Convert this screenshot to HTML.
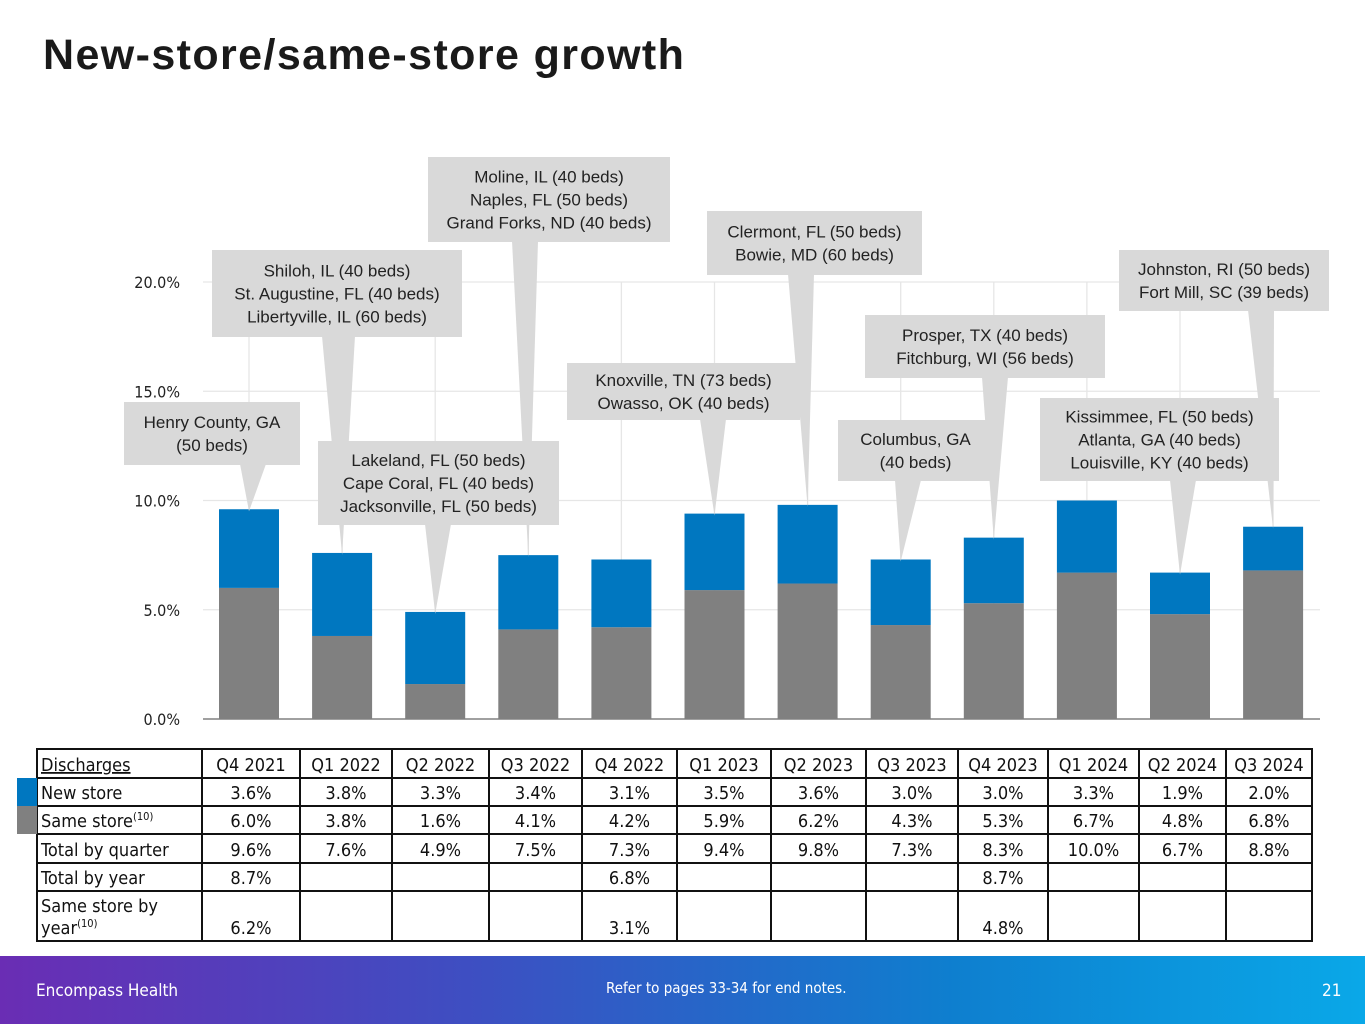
<!DOCTYPE html>
<html><head><meta charset="utf-8"><style>
body{margin:0;width:1365px;height:1024px;overflow:hidden;background:#fff;font-family:"DejaVu Sans Condensed","Liberation Sans",sans-serif;}
#title{position:absolute;left:43px;top:31px;font:bold 43px "Liberation Sans",sans-serif;color:#1a1a1a;margin:0;letter-spacing:1.4px}
svg{position:absolute;left:0;top:0}
#footer{position:absolute;left:0;top:956px;width:1365px;height:68px;background:linear-gradient(90deg,#6a2db4 0%,#3d4fc2 35%,#0e7fcf 70%,#0aa8e8 100%)}
</style></head><body>
<h1 id="title">New-store/same-store growth</h1>
<svg id="chart" width="1365" height="1024"></svg>
<div id="footer">
<span style="position:absolute;left:36px;top:25px;color:#fff;font-size:17px">Encompass Health</span>
<span style="position:absolute;left:606px;top:23px;color:#fff;font-size:15px">Refer to pages 33-34 for end notes.</span>
<span style="position:absolute;left:1322px;top:25px;color:#fff;font-size:17px">21</span>
</div>
<script>
const categories=["Q4 2021","Q1 2022","Q2 2022","Q3 2022","Q4 2022","Q1 2023","Q2 2023","Q3 2023","Q4 2023","Q1 2024","Q2 2024","Q3 2024"];
const newStore=[3.6,3.8,3.3,3.4,3.1,3.5,3.6,3.0,3.0,3.3,1.9,2.0];
const sameStore=[6.0,3.8,1.6,4.1,4.2,5.9,6.2,4.3,5.3,6.7,4.8,6.8];
const totalQuarter=[9.6,7.6,4.9,7.5,7.3,9.4,9.8,7.3,8.3,10.0,6.7,8.8];
const totalYear=["8.7%","","","","6.8%","","","","8.7%","","",""];
const sameYear=["6.2%","","","","3.1%","","","","4.8%","","",""];
const yTicks=[0,5,10,15,20];
const callouts=[
 {i:0,lines:["Henry County, GA","(50 beds)"],x:124,y:402,w:176,h:63,b:240},
 {i:1,lines:["Shiloh, IL (40 beds)","St. Augustine, FL (40 beds)","Libertyville, IL (60 beds)"],x:212,y:250,w:250,h:87,b:322},
 {i:2,lines:["Lakeland, FL (50 beds)","Cape Coral, FL (40 beds)","Jacksonville, FL (50 beds)"],x:318,y:441,w:241,h:84,b:425},
 {i:3,lines:["Moline, IL (40 beds)","Naples, FL (50 beds)","Grand Forks, ND (40 beds)"],x:428,y:157,w:242,h:85,b:512},
 {i:5,lines:["Knoxville, TN (73 beds)","Owasso, OK (40 beds)"],x:567,y:363,w:233,h:57,b:700},
 {i:6,lines:["Clermont, FL (50 beds)","Bowie, MD (60 beds)"],x:707,y:211,w:215,h:64,b:788},
 {i:7,lines:["Columbus, GA","(40 beds)"],x:838,y:420,w:155,h:61,b:895},
 {i:8,lines:["Prosper, TX (40 beds)","Fitchburg, WI (56 beds)"],x:865,y:315,w:240,h:63,b:982},
 {i:10,lines:["Kissimmee, FL (50 beds)","Atlanta, GA (40 beds)","Louisville, KY (40 beds)"],x:1040,y:398,w:239,h:83,b:1170},
 {i:11,lines:["Johnston, RI (50 beds)","Fort Mill, SC (39 beds)"],x:1119,y:250,w:210,h:61,b:1248}
];
const svg=document.getElementById('chart');const NS='http://www.w3.org/2000/svg';
function mk(t,a,p){const e=document.createElementNS(NS,t);for(const k in a)e.setAttribute(k,a[k]);(p||svg).appendChild(e);return e;}
const x0=203,step=93.1,bw=60,y0=719,pxPer=21.85;
const xC=i=>249+i*step;const yV=v=>y0-v*pxPer;
yTicks.forEach(t=>{const l=mk('line',{x1:x0,x2:1320,y1:yV(t),y2:yV(t),stroke:t?'#e6e6e6':'#808080','stroke-width':t?1.3:1.5});

const tx=mk('text',{x:180,y:yV(t)+6,'text-anchor':'end','font-size':16,fill:'#222'});tx.textContent=t.toFixed(1)+'%';
});
categories.forEach((c,i)=>{const l=mk('line',{x1:xC(i),x2:xC(i),y1:yV(20),y2:y0,stroke:'#e6e6e6','stroke-width':1.3});
});
categories.forEach((c,i)=>{const s=mk('rect',{x:xC(i)-bw/2,y:yV(sameStore[i]),width:bw,height:sameStore[i]*pxPer,fill:'#808080'});

const n=mk('rect',{x:xC(i)-bw/2,y:yV(sameStore[i]+newStore[i]),width:bw,height:newStore[i]*pxPer,fill:'#0077c0'});
});
const cg=mk('g',{});
callouts.forEach(c=>{const tip=yV(totalQuarter[c.i])+2;const bwid=c.b>300&&c.b<360?33:26;
mk('polygon',{points:`${c.b},${c.y+c.h-1} ${c.b+bwid},${c.y+c.h-1} ${xC(c.i)},${tip}`,fill:'#d9d9d9'},cg);});
callouts.forEach(c=>{const g=mk('g',{});
mk('rect',{x:c.x,y:c.y,width:c.w,height:c.h,fill:'#d9d9d9'},g);});
callouts.forEach(c=>{const g=mk('g',{});
const n=c.lines.length;const lh=23;const start=c.y+c.h/2-(n-1)*lh/2+6;
c.lines.forEach((s,k)=>{const t=mk('text',{x:c.x+c.w/2,y:start+k*lh,'text-anchor':'middle','font-size':17,'font-family':'Liberation Sans, sans-serif',fill:'#222'},g);t.textContent=s;});});
// table
const colX=[37,202,300,392,489,582,677,771,866,958,1048,1139,1226,1312];
const rowY=[749,778,806,834,863,891,941];
const tg=mk('g',{});
const lb=mk('rect',{x:17,y:778,width:20,height:28,fill:'#0077c0'});
const lg=mk('rect',{x:17,y:806,width:20,height:28,fill:'#808080'});
rowY.forEach(y=>mk('line',{x1:36,x2:1313,y1:y,y2:y,stroke:'#111','stroke-width':2},tg));
colX.forEach(x=>mk('line',{x1:x,x2:x,y1:749,y2:941,stroke:'#111','stroke-width':2},tg));
function txt(x,y,s,anchor,extra){const t=mk('text',Object.assign({x:x,y:y,'text-anchor':anchor,'font-size':18,fill:'#111'},extra||{}),tg);t.innerHTML=s;return t;}
txt(41,771,'Discharges','start',{'text-decoration':'underline'});
txt(41,799,'New store','start');
txt(41,827,'Same store<tspan font-size="11" dy="-7">(10)</tspan>','start');
txt(41,856,'Total by quarter','start');
txt(41,884,'Total by year','start');
txt(41,912,'Same store by','start');
txt(41,934,'year<tspan font-size="11" dy="-7">(10)</tspan>','start');
categories.forEach((c,i)=>{const cx=(colX[i+1]+colX[i+2])/2;
txt(cx,771,c,'middle');
txt(cx,799,newStore[i].toFixed(1)+'%','middle');
txt(cx,827,sameStore[i].toFixed(1)+'%','middle');
txt(cx,856,totalQuarter[i].toFixed(1)+'%','middle');
txt(cx,884,totalYear[i],'middle');
txt(cx,934,sameYear[i],'middle');});
</script>
</body></html>
